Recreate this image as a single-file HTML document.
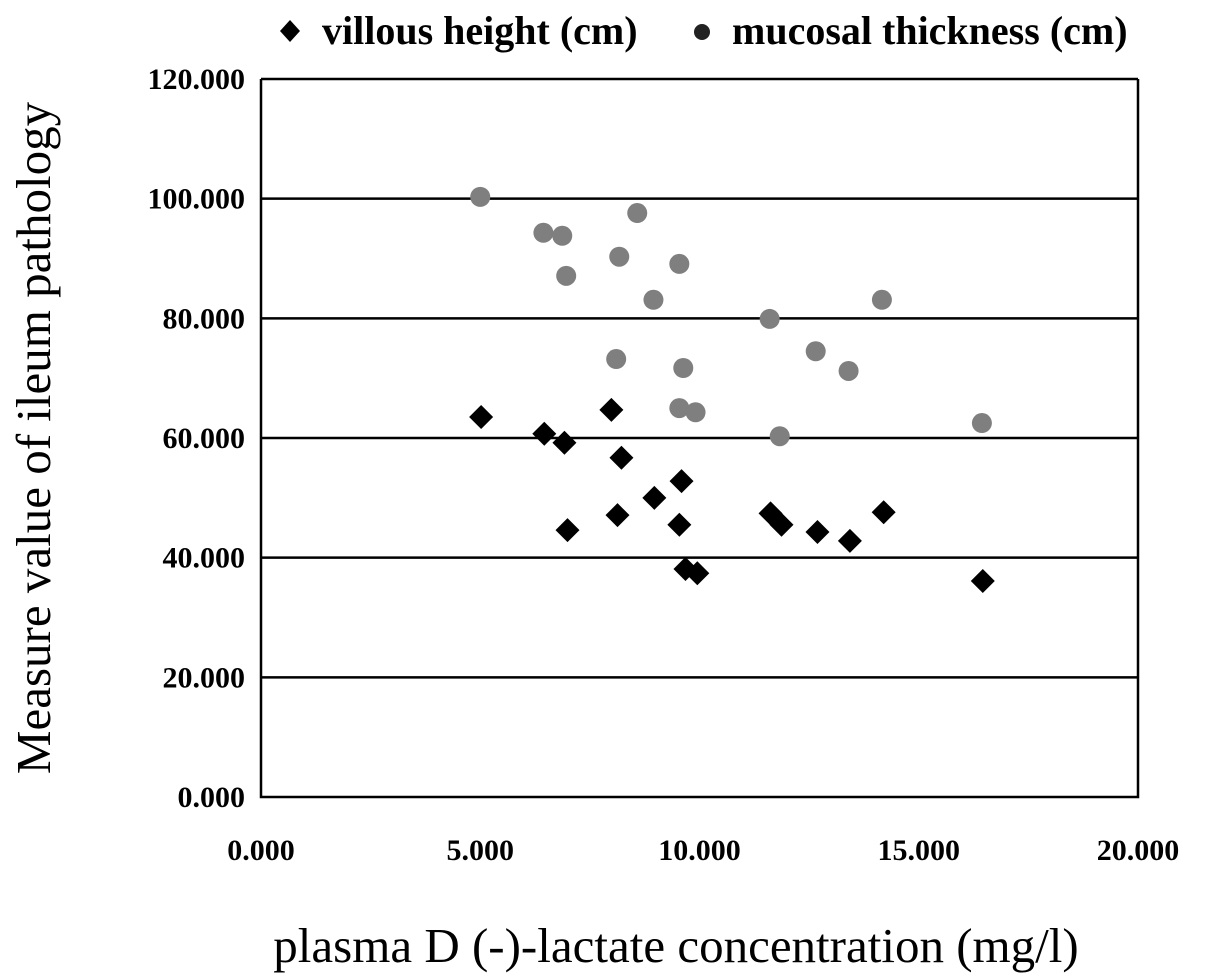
<!DOCTYPE html>
<html><head><meta charset="utf-8"><style>
body{margin:0;background:#fff;}
svg{display:block;font-family:"Liberation Serif",serif;}
</style></head><body>
<svg id="chart" width="1205" height="979">
<g id="grid"></g><g id="ticks"></g><g id="marks"></g>
<text x="50" y="438" font-size="49" text-anchor="middle" transform="rotate(-90 50 438)">Measure value of ileum pathology</text>
<text x="676" y="962" font-size="49" text-anchor="middle">plasma D (-)-lactate concentration (mg/l)</text>
<g>
<path d="M290 20 L300 31 L290 42 L280 31 Z" fill="#000"/>
<text x="322" y="44" font-size="40" font-weight="bold">villous height (cm)</text>
<circle cx="702" cy="32" r="8" fill="#222"/>
<text x="732" y="44" font-size="40" font-weight="bold">mucosal thickness (cm)</text>
</g>
</svg>
<script>
const xTicks=[0,5,10,15,20];
const yTicks=[0,20,40,60,80,100,120];
const mucX=[5.0,6.44,6.87,6.96,8.58,8.17,8.95,9.54,8.10,9.63,9.54,9.91,11.6,11.83,12.65,13.4,14.16,16.44];
const mucY=[100.3,94.3,93.8,87.1,97.6,90.3,83.1,89.1,73.2,71.7,65.0,64.3,79.9,60.3,74.5,71.2,83.1,62.5];
const vilX=[5.02,6.46,6.92,6.99,7.99,8.22,8.13,8.97,9.59,9.54,9.68,9.95,11.62,11.87,12.69,13.43,14.2,16.46];
const vilY=[63.5,60.7,59.2,44.6,64.7,56.7,47.1,50.0,52.8,45.5,38.1,37.4,47.4,45.5,44.3,42.8,47.6,36.1];
const NS="http://www.w3.org/2000/svg";
const X0=261,X1=1138,Y0=797,Y1=79;
const sx=v=>X0+(v-0)/20*(X1-X0);
const sy=v=>Y0-(v-0)/120*(Y0-Y1);
function mk(t,a,p){const e=document.createElementNS(NS,t);for(const k in a)e.setAttribute(k,a[k]);p.appendChild(e);return e;}
const grid=document.getElementById('grid'),ticks=document.getElementById('ticks'),marks=document.getElementById('marks');
yTicks.forEach(v=>{
 if(v>0){const l=mk('line',{x1:X0,x2:X1,y1:sy(v),y2:sy(v),stroke:'#000','stroke-width':2.5},grid);
 
 }
 const t=mk('text',{x:X0-16,y:sy(v)+10,'font-size':30,'font-weight':'bold','text-anchor':'end'},ticks);t.textContent=v.toFixed(3);
 
 
});
xTicks.forEach(v=>{
 const t=mk('text',{x:sx(v),y:Y0+63,'font-size':30,'font-weight':'bold','text-anchor':'middle'},ticks);t.textContent=v.toFixed(3);
 
 
});
const ax=mk('path',{d:`M${X0} ${Y1} L${X0} ${Y0} L${X1} ${Y0} L${X1} ${Y1}`,fill:'none',stroke:'#000','stroke-width':2.5},grid);


mucX.forEach((x,i)=>{
 const c=mk('circle',{cx:sx(x),cy:sy(mucY[i]),r:10,fill:'#7f7f7f'},marks);
 
 
});
vilX.forEach((x,i)=>{
 const cx=sx(x),cy=sy(vilY[i]),r=12;
 const p=mk('path',{d:`M${cx} ${cy-r} L${cx+r} ${cy} L${cx} ${cy+r} L${cx-r} ${cy} Z`,fill:'#000'},marks);
 
 
});
</script>
</body></html>
